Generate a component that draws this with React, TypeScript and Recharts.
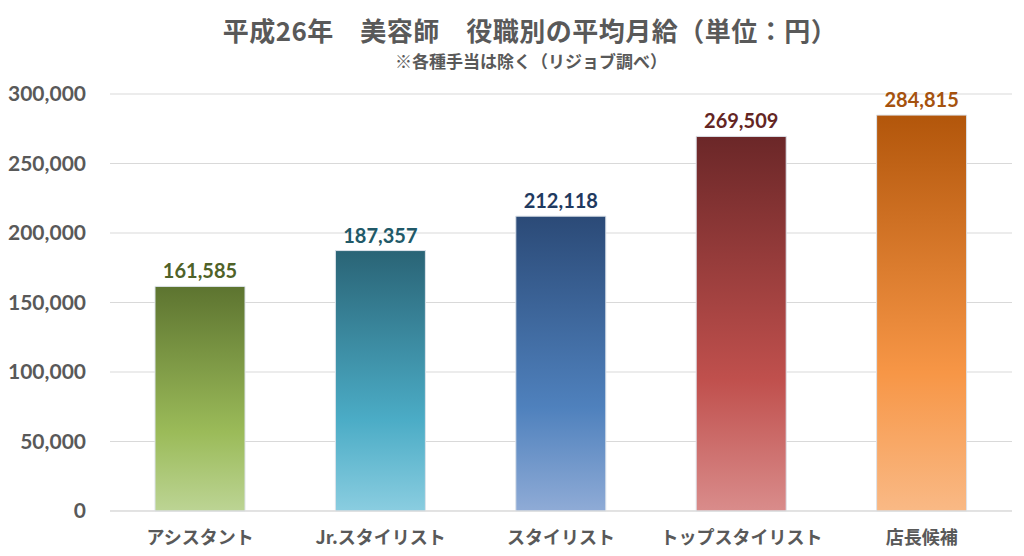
import { BarChart, Bar, XAxis, YAxis, CartesianGrid, Cell, LabelList } from 'recharts';

const categories = ['アシスタント', 'Jr.スタイリスト', 'スタイリスト', 'トップスタイリスト', '店長候補'];
const salaries = [161585, 187357, 212118, 269509, 284815];
const yTicks = [0, 50000, 100000, 150000, 200000, 250000, 300000];

// top / middle / bottom colours of each bar and its label colour
const barColors = [
  { top: '#5d7430', mid: '#9bbb59', bottom: '#bcd494', label: '#4f6228' },
  { top: '#2a6476', mid: '#4bacc6', bottom: '#8acde0', label: '#215968' },
  { top: '#2b4a77', mid: '#4f81bd', bottom: '#8fabd6', label: '#1f3a60' },
  { top: '#6b2728', mid: '#c0504d', bottom: '#d98c8b', label: '#632523' },
  { top: '#b2560b', mid: '#f79646', bottom: '#f9b985', label: '#a5520e' },
];

const data = categories.map((name, i) => ({ name, value: salaries[i] }));

const gray = '#595959';
const fmt = (v: number) => v.toLocaleString('en-US');

function ValueLabel(props: any) {
  const { x, y, width, value, index } = props;
  return (
    <text
      x={x + width / 2}
      y={y - 8}
      textAnchor="middle"
      fill={barColors[index].label}
      fontSize={20}
      fontWeight={700}
      fontFamily="Lato, sans-serif"
    >
      {fmt(value)}
    </text>
  );
}

export default function App() {
  return (
    <div style={{ position: 'absolute', left: 0, top: 0, width: 1024, height: 556, background: '#fff' }}>
      <div
        style={{
          position: 'absolute',
          left: 0,
          width: 1060,
          top: 13,
          textAlign: 'center',
          fontFamily: '"Noto Sans CJK JP", sans-serif',
          fontWeight: 700,
          fontSize: 26,
          color: gray,
          lineHeight: '34px',
          letterSpacing: 0.5,
        }}
      >
        平成26年　美容師　役職別の平均月給（単位：円）
      </div>
      <div
        style={{
          position: 'absolute',
          left: 0,
          width: 1062,
          top: 49,
          textAlign: 'center',
          fontFamily: '"Noto Sans CJK JP", sans-serif',
          fontWeight: 700,
          fontSize: 17,
          color: gray,
          lineHeight: '24px',
        }}
      >
        ※各種手当は除く（リジョブ調べ）
      </div>
      <BarChart
        width={1024}
        height={556}
        data={data}
        margin={{ top: 94, right: 12, left: 0, bottom: 15 }}
        barSize={90}
      >
        <defs>
          {barColors.map((c, i) => (
            <linearGradient key={i} id={`grad${i}`} x1="0" y1="0" x2="0" y2="1">
              <stop offset="0%" stopColor={c.top} />
              <stop offset="65%" stopColor={c.mid} />
              <stop offset="100%" stopColor={c.bottom} />
            </linearGradient>
          ))}
        </defs>
        <CartesianGrid vertical={false} stroke="#d9d9d9" />
        <XAxis
          dataKey="name"
          height={30}
          axisLine={{ stroke: '#d9d9d9' }}
          tickLine={false}
          tickSize={0}
          tickMargin={20}
          interval={0}
          tick={{ fill: gray, fontSize: 18, fontWeight: 700, fontFamily: '"Noto Sans CJK JP", sans-serif' }}
        />
        <YAxis
          width={110}
          domain={[0, 300000]}
          ticks={yTicks}
          axisLine={false}
          tickLine={false}
          tickSize={0}
          tickMargin={24}
          tickFormatter={fmt}
          tick={{ fill: gray, fontSize: 21, fontWeight: 700, fontFamily: 'Lato, sans-serif' }}
        />
        <Bar dataKey="value" isAnimationActive={false} stroke="#dde3ea" strokeWidth={1}>
          {data.map((_, i) => (
            <Cell key={i} fill={`url(#grad${i})`} />
          ))}
          <LabelList dataKey="value" content={<ValueLabel />} />
        </Bar>
      </BarChart>
    </div>
  );
}
